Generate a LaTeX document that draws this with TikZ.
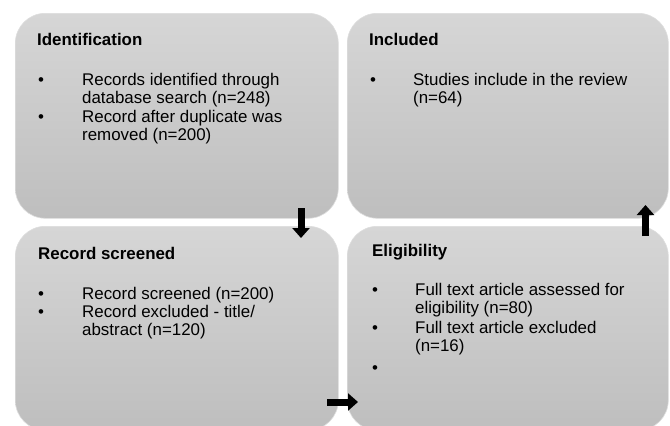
\documentclass[tikz,border=0pt]{standalone}
\usepackage{fontspec}
\setmainfont{Liberation Sans}
\usetikzlibrary{arrows.meta}
\definecolor{boxtop}{RGB}{214,214,214}
\definecolor{boxbot}{RGB}{190,190,190}
\definecolor{boxedge}{RGB}{222,222,222}
\begin{document}
\begin{tikzpicture}[x=1pt,y=-1pt,
  panel/.style={rounded corners=30pt, top color=boxtop, bottom color=boxbot, draw=boxedge, line width=0.6pt, anchor=north west, inner sep=0pt},
  head/.style={anchor=base west, inner sep=0pt, font=\fontsize{16.9}{18.4}\selectfont\bfseries},
  item/.style={anchor=base west, inner sep=0pt, align=left, font=\fontsize{16.9}{18.4}\selectfont},
  dot/.style={anchor=base west, inner sep=0pt, font=\fontsize{16.9}{18.4}\selectfont},
  blockarrow/.style={line width=7pt, -{Triangle[width=17pt,length=10pt]}}]
\useasboundingbox (0,0) rectangle (670,426);
\begin{scope}
\clip (0,0) rectangle (670,426);
\node[panel, minimum width=323pt, minimum height=205pt] (ident) at (15,13) {};
\node[panel, minimum width=321pt, minimum height=205pt] (incl) at (347,13) {};
\node[panel, minimum width=323pt, minimum height=204pt] (screen) at (15,226) {};
\node[panel, minimum width=321pt, minimum height=204pt] (elig) at (347,226) {};
\end{scope}

% Identification (multi-line items are anchored at the baseline of their last line)
\node[head] (identh) at (37,45) {Identification};
\node[dot] (identd1) at (38,85) {•};
\node[item] (identi1) at (82,103.4) {Records identified through\\database search (n=248)};
\node[dot] (identd2) at (38,122) {•};
\node[item] (identi2) at (82,140.4) {Record after duplicate was\\removed (n=200)};

% Included
\node[head] (inclh) at (369,45) {Included};
\node[dot] (incld1) at (370,85) {•};
\node[item] (incli1) at (413,103.4) {Studies include in the review\\(n=64)};

% Record screened
\node[head] (screenh) at (38,259) {Record screened};
\node[dot] (screend1) at (38,299) {•};
\node[item] (screeni1) at (82,299) {Record screened (n=200)};
\node[dot] (screend2) at (38,317.5) {•};
\node[item] (screeni2) at (82,335.9) {Record excluded - title/\\abstract (n=120)};

% Eligibility
\node[head] (eligh) at (372,256) {Eligibility};
\node[dot] (eligd1) at (372,295) {•};
\node[item] (eligi1) at (415,313.4) {Full text article assessed for\\eligibility (n=80)};
\node[dot] (eligd2) at (372,333.5) {•};
\node[item] (eligi2) at (415,351.9) {Full text article excluded\\(n=16)};
\node[dot] (eligd3) at (372,373) {•};

% arrows
\coordinate (a1s) at (301,208);
\coordinate (a1e) at (301,238);
\coordinate (a2s) at (327,402);
\coordinate (a2e) at (358,402);
\coordinate (a3s) at (645.5,236);
\coordinate (a3e) at (645.5,205);
\draw[blockarrow] (a1s) -- (a1e);
\draw[blockarrow] (a2s) -- (a2e);
\draw[blockarrow] (a3s) -- (a3e);
\end{tikzpicture}
\end{document}
